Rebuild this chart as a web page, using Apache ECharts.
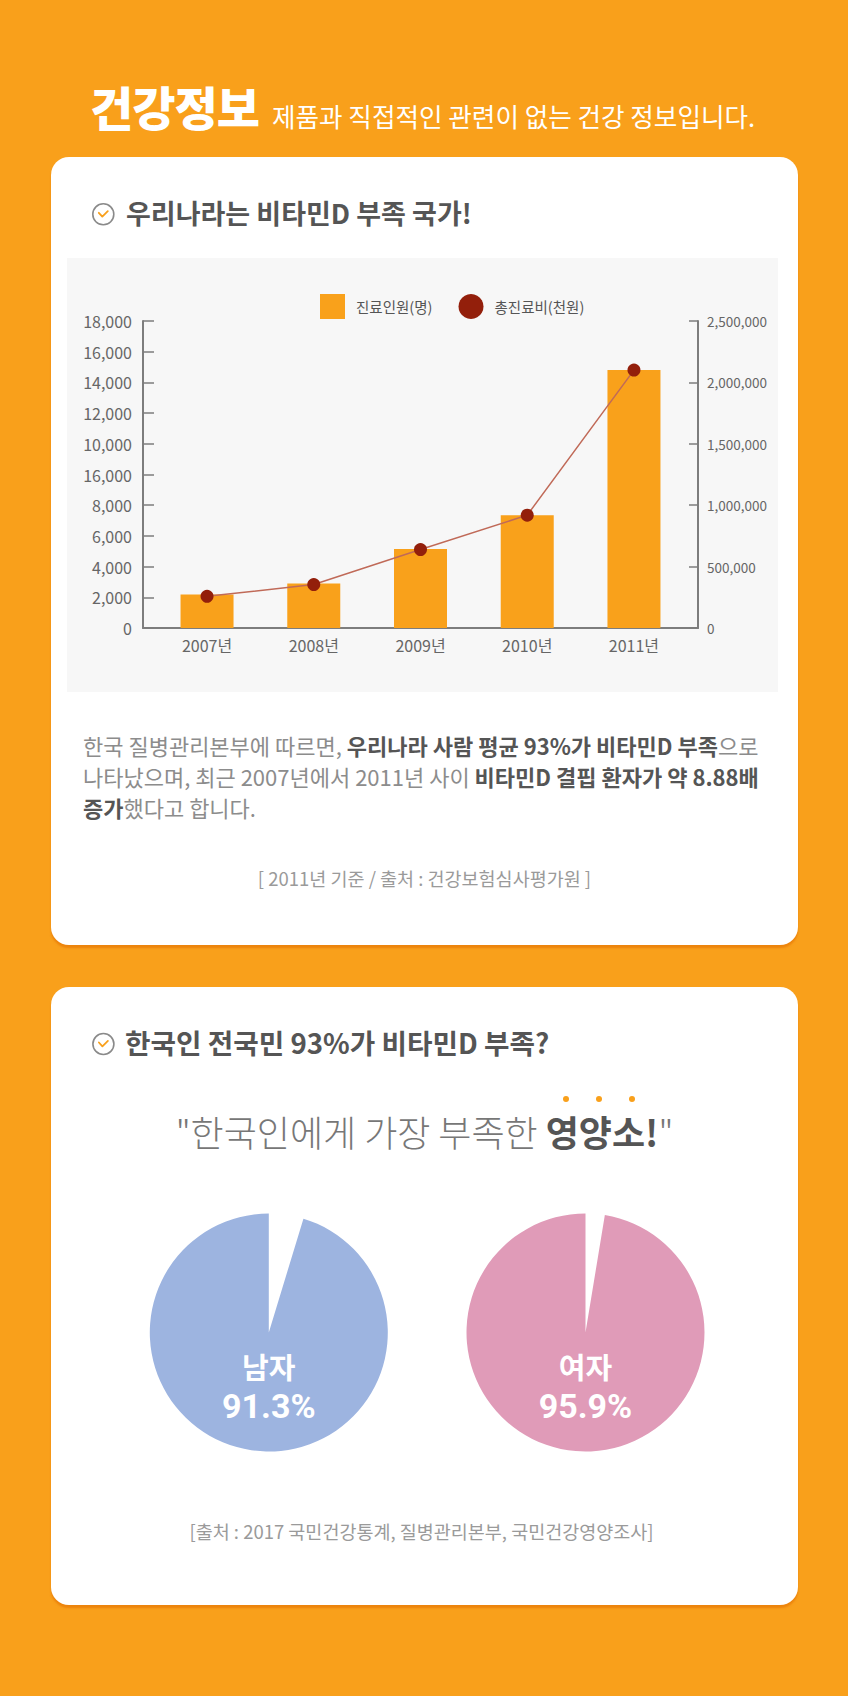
<!DOCTYPE html>
<html><head><meta charset="utf-8">
<script src="https://cdn.jsdelivr.net/npm/echarts@6/dist/echarts.min.js"></script>
<style>
html,body{margin:0;padding:0;}
body{width:848px;height:1696px;background:#F9A01B;position:relative;overflow:hidden;font-family:"Noto Sans CJK KR","Noto Sans",sans-serif;}
.abs{position:absolute;white-space:nowrap;}
.head{left:90px;top:78px;font-size:47px;line-height:56px;font-weight:900;color:#fff;letter-spacing:-1px;}
.sub{left:272px;top:101px;font-size:25.6px;line-height:30px;color:#fff;font-weight:400;}
.card{position:absolute;left:51px;width:747px;background:#fff;border-radius:18px;box-shadow:0 3px 2px rgba(226,110,0,0.55);}
.ttl{font-size:27px;line-height:34px;font-weight:700;color:#555;left:126px;}
.para{left:83px;top:730px;font-size:22px;line-height:31px;color:#8c8c8c;}
.para b{color:#555;font-weight:700;}
.src{left:51px;width:747px;text-align:center;font-size:18.5px;line-height:24px;color:#9a9a9a;}
.quote{left:51px;width:747px;text-align:center;top:1109px;font-size:36px;line-height:44px;color:#777;font-weight:300;}
.quote b{color:#555;font-weight:700;}
.dot{position:relative;}
.dot::before{content:'';position:absolute;left:calc(50% + 4px);top:-9px;width:6px;height:6px;margin-left:-3px;border-radius:50%;background:#F9A01B;}
#bar{position:absolute;left:67px;top:258px;width:711px;height:434px;background:#F7F7F7;}
#pie{position:absolute;left:51px;top:1190px;width:747px;height:280px;}
svg.ic{position:absolute;left:0;top:0;}
</style></head>
<body>
<div class="abs head">건강정보</div>
<div class="abs sub">제품과 직접적인 관련이 없는 건강 정보입니다.</div>

<div class="card" style="top:157px;height:788px;"></div>
<div class="card" style="top:987px;height:618px;"></div>

<svg class="ic" width="848" height="1696">
  <circle cx="103.3" cy="214.3" r="10.5" fill="none" stroke="#8a8a8a" stroke-width="1.6"/>
  <path d="M98.8 212.8 L102.3 216.6 L107.8 211.2" fill="none" stroke="#F9A01B" stroke-width="1.8" stroke-linecap="round" stroke-linejoin="round"/>
  <circle cx="103.4" cy="1044" r="10.5" fill="none" stroke="#8a8a8a" stroke-width="1.6"/>
  <path d="M98.9 1042.5 L102.4 1046.3 L107.9 1040.9" fill="none" stroke="#F9A01B" stroke-width="1.8" stroke-linecap="round" stroke-linejoin="round"/>
</svg>

<div class="abs ttl" style="top:196px;">우리나라는 비타민D 부족 국가!</div>
<div id="bar"></div>
<div class="abs para">한국 질병관리본부에 따르면, <b>우리나라 사람 평균 93%가 비타민D 부족</b>으로<br>나타났으며, 최근 2007년에서 2011년 사이 <b>비타민D 결핍 환자가 약 8.88배</b><br><b>증가</b>했다고 합니다.</div>
<div class="abs src" style="top:866px;">[ 2011년 기준 / 출처 : 건강보험심사평가원 ]</div>

<div class="abs ttl" style="top:1025px;left:125px;font-size:27.7px;">한국인 전국민 93%가 비타민D 부족?</div>
<div class="abs quote">"한국인에게 가장 부족한 <b><span class="dot">영</span><span class="dot">양</span><span class="dot">소</span>!</b>"</div>
<div id="pie"></div>
<div class="abs src" style="top:1519px;left:48px;">[출처 : 2017 국민건강통계, 질병관리본부, 국민건강영양조사]</div>

<script>
// ---- data ----
const years = ['2007년', '2008년', '2009년', '2010년', '2011년'];
// patients, read in left-axis position units (one tick step = 2,000)
const patients = [2180, 2900, 5150, 7350, 16800];
// total cost (thousand won), read against right axis
const costs = [258000, 354000, 639000, 919000, 2100000];
const leftTickLabels = ['0', '2,000', '4,000', '6,000', '8,000', '16,000', '10,000', '12,000', '14,000', '16,000', '18,000'];
const rightTickLabels = ['0', '500,000', '1,000,000', '1,500,000', '2,000,000', '2,500,000'];
const seriesNames = ['진료인원(명)', '총진료비(천원)'];

const pieNames = ['남자', '여자'];
const pieLabels = ['91.3%', '95.9%'];
// [gap, filled] share of the circle as drawn
const malePie = [4.7, 95.3];
const femalePie = [2.6, 97.4];

const FONT = "'Noto Sans CJK KR', 'Noto Sans', sans-serif";
const axisGray = '#7d7d7d';
const yearIdx = years.map((y, i) => i);

const bar = echarts.init(document.getElementById('bar'), null, {renderer: 'svg'});
bar.setOption({
  animation: false,
  textStyle: {fontFamily: FONT},
  legend: {
    left: 248, top: 31, itemWidth: 25, itemHeight: 25, itemGap: 26,
    textStyle: {fontSize: 14.5, color: '#555', fontFamily: FONT, padding: [0, 0, 0, 6]},
    data: [{name: seriesNames[0], icon: 'rect'}, {name: seriesNames[1], icon: 'circle'}]
  },
  grid: {left: 76, right: 80, top: 63, bottom: 64},
  xAxis: {
    type: 'value', min: -0.6, max: 4.6,
    splitLine: {show: false},
    axisLine: {show: true, onZero: false, lineStyle: {color: axisGray, width: 2}},
    axisTick: {show: false},
    axisLabel: {color: '#666', fontSize: 16, margin: 9, fontFamily: FONT,
      customValues: yearIdx, formatter: v => years[Math.round(v)]}
  },
  yAxis: [{
    type: 'value', min: 0, max: 20000, interval: 2000, position: 'left',
    axisLine: {show: true, onZero: false, lineStyle: {color: axisGray, width: 2}},
    axisTick: {show: true, inside: true, length: 11, lineStyle: {color: axisGray, width: 1.5}},
    splitLine: {show: false},
    axisLabel: {color: '#666', fontSize: 16, margin: 11, fontFamily: FONT,
      formatter: v => leftTickLabels[Math.round(v / 2000)]}
  }, {
    type: 'value', min: 0, max: 2500000, interval: 500000, position: 'right',
    axisLine: {show: true, onZero: false, lineStyle: {color: axisGray, width: 2}},
    axisTick: {show: true, inside: true, length: 9, lineStyle: {color: axisGray, width: 1.5}},
    splitLine: {show: false},
    axisLabel: {color: '#666', fontSize: 13.5, margin: 9, fontFamily: FONT,
      formatter: v => rightTickLabels[Math.round(v / 500000)]}
  }],
  series: [{
    name: seriesNames[0], type: 'bar', barWidth: 53,
    data: patients.map((v, i) => [yearIdx[i], v]),
    itemStyle: {color: '#F9A11B'}
  }, {
    name: seriesNames[1], type: 'line', yAxisIndex: 1,
    data: costs.map((v, i) => [yearIdx[i], v]),
    symbol: 'circle', symbolSize: 13, z: 5,
    lineStyle: {color: '#c06a58', width: 1.5},
    itemStyle: {color: '#931F0B'}
  }]
});

const pie = echarts.init(document.getElementById('pie'), null, {renderer: 'svg'});
const pieColors = ['#9DB4E0', '#E09BB8'];
const pieCenters = [[217.8, 142.5], [534.5, 142.5]];
const pieData = [malePie, femalePie];
pie.setOption({
  animation: false,
  series: pieData.map((d, i) => ({
    type: 'pie', radius: 119, center: pieCenters[i], startAngle: 90, clockwise: true,
    label: {show: false}, labelLine: {show: false}, silent: true,
    emphasis: {disabled: true},
    data: [
      {value: d[0], name: 'gap', itemStyle: {color: 'rgba(255,255,255,0)'}},
      {value: d[1], name: pieNames[i], itemStyle: {color: pieColors[i]}}
    ]
  })),
  graphic: pieNames.flatMap((n, i) => [
    {type: 'text', z: 100, x: pieCenters[i][0], y: pieCenters[i][1] + 33.5,
      style: {text: n, fill: '#fff', fontSize: 29, fontWeight: 700, fontFamily: FONT,
        align: 'center', verticalAlign: 'middle'}},
    {type: 'text', z: 100, x: pieCenters[i][0], y: pieCenters[i][1] + 73,
      style: {text: pieLabels[i], fill: '#fff', fontSize: 34, fontWeight: 700, fontFamily: "Roboto, 'Noto Sans', sans-serif",
        align: 'center', verticalAlign: 'middle'}}
  ])
});
</script>
</body></html>
